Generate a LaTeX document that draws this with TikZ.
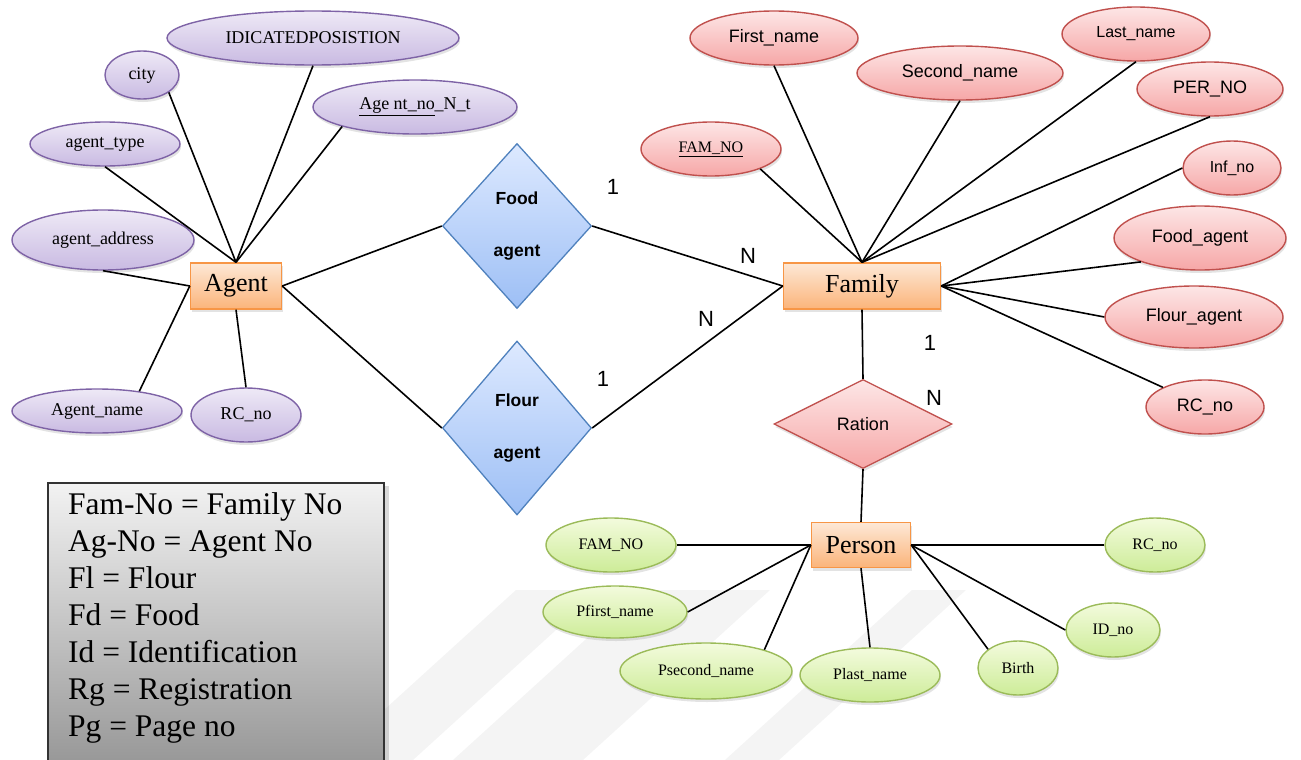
\documentclass[tikz,border=0pt]{standalone}
\usepackage{fontspec}
\setmainfont{Liberation Serif}
\setsansfont{Liberation Sans}
\usetikzlibrary{shapes.geometric,shadows}

\definecolor{purpleline}{HTML}{7E63A6}
\definecolor{purpletop}{HTML}{EEE9F6}
\definecolor{purplebot}{HTML}{C9BAE2}
\definecolor{redline}{HTML}{C0504D}
\definecolor{redtop}{HTML}{FDE6E6}
\definecolor{redbot}{HTML}{F6A7A7}
\definecolor{greenline}{HTML}{9BBB59}
\definecolor{greentop}{HTML}{F3FBDD}
\definecolor{greenbot}{HTML}{CDEC98}
\definecolor{orangeline}{HTML}{F79646}
\definecolor{orangetop}{HTML}{FDE8D6}
\definecolor{orangebot}{HTML}{FBB47A}
\definecolor{blueline}{HTML}{4F81BD}
\definecolor{bluetop}{HTML}{DDE9FF}
\definecolor{bluebot}{HTML}{9DBFF5}
\definecolor{markgray}{HTML}{F4F4F4}

\tikzset{
  sz/.style 2 args={minimum width=#1pt, minimum height=#2pt},
  softshadow/.style={drop shadow={opacity=0.22, shadow xshift=1pt, shadow yshift=-3pt}},
  attr/.style={ellipse, inner sep=0pt, line width=1.4pt, softshadow},
  pattr/.style={attr, draw=purpleline, top color=purpletop, bottom color=purplebot,
    font=\fontsize{18}{20}\selectfont},
  rattr/.style={attr, draw=redline, top color=redtop, bottom color=redbot,
    font=\sffamily\fontsize{18}{20}\selectfont},
  gattr/.style={attr, draw=greenline, top color=greentop, bottom color=greenbot,
    font=\fontsize{16}{18}\selectfont},
  entity/.style={rectangle, inner sep=0pt, line width=1.4pt, draw=orangeline,
    top color=orangetop, bottom color=orangebot, softshadow,
    font=\fontsize{26}{30}\selectfont},
  bluerel/.style={diamond, inner sep=0pt, line width=1.3pt, draw=blueline,
    top color=bluetop, bottom color=bluebot, align=center,
    font=\sffamily\bfseries\fontsize{17.5}{52}\selectfont},
  redrel/.style={diamond, inner sep=0pt, line width=1.3pt, draw=redline,
    top color=redtop, bottom color=redbot, softshadow,
    font=\sffamily\fontsize{18}{20}\selectfont},
  link/.style={line width=1.6pt, black},
  card/.style={inner sep=0pt, font=\sffamily\fontsize{22}{24}\selectfont},
  legendbox/.style={rectangle, anchor=north west, draw=black!80, line width=1.6pt,
    top color=black!5, bottom color=black!42,
    drop shadow={opacity=0.3, shadow xshift=5pt, shadow yshift=-3pt}},
}

\begin{document}
\begin{tikzpicture}[x=1pt, y=-1pt]
\useasboundingbox (0,0) rectangle (1301,760);

% faint background stripes
\fill[markgray] (516,590) -- (600,590) -- (413,760) -- (329,760) -- cycle;
\fill[markgray] (640,590) -- (770,590) -- (583,760) -- (453,760) -- cycle;
\fill[markgray] (912,590) -- (966,590) -- (779,760) -- (725,760) -- cycle;

% ---------- Agent entity and its attributes ----------
\node[entity, sz={91}{46}] (agent) at (236,286) {Agent};
\node[pattr, sz={292}{54}] (idpos) at (313,38) {IDICATEDPOSISTION};
\node[pattr, sz={74}{48}] (city) at (142,75) {city};
\node[pattr, sz={204}{54}] (agno) at (415,107) {\underline{Age nt\_no}\_N\_t};
\node[pattr, sz={150}{44}] (atype) at (105,144) {agent\_type};
\node[pattr, sz={182}{60}] (aaddr) at (103,240) {agent\_address};
\node[pattr, sz={170}{44}] (aname) at (97,411) {Agent\_name};
\node[pattr, sz={110}{54}] (arc) at (246,415) {RC\_no};

% ---------- relationships between Agent and Family ----------
\node[bluerel, sz={149}{165}] (food) at (517,226) {Food\\agent};
\node[bluerel, sz={149}{174}] (flour) at (517,428) {Flour\\agent};

% ---------- Family entity and its attributes ----------
\node[entity, sz={157}{46}] (family) at (862,286) {Family};
\node[rattr, sz={168}{54}] (fname) at (774,38) {First\_name};
\node[rattr, sz={206}{54}] (sname) at (960,73) {Second\_name};
\node[rattr, sz={148}{54}, font=\sffamily\fontsize{16}{18}\selectfont] (lname) at (1136,34) {Last\_name};
\node[rattr, sz={146}{54}] (perno) at (1210,89) {PER\_NO};
\node[rattr, sz={140}{54}, font=\rmfamily\fontsize{16}{18}\selectfont] (famno) at (711,149) {\underline{FAM\_NO}};
\node[rattr, sz={98}{54}, font=\sffamily\fontsize{16}{18}\selectfont] (infno) at (1232,168) {Inf\_no};
\node[rattr, sz={172}{64}] (foodag) at (1200,238) {Food\_agent};
\node[rattr, sz={178}{62}] (flourag) at (1194,317) {Flour\_agent};
\node[rattr, sz={118}{54}] (frc) at (1205,407) {RC\_no};

\node[redrel, sz={178}{89}] (ration) at (863,424) {Ration};

% ---------- Person entity and its attributes ----------
\node[entity, sz={99}{45}] (person) at (861,545) {Person};
\node[gattr, sz={130}{54}] (pfam) at (611,545) {FAM\_NO};
\node[gattr, sz={144}{52}] (pfirst) at (615,612) {Pfirst\_name};
\node[gattr, sz={172}{56}] (psecond) at (706,671) {Psecond\_name};
\node[gattr, sz={140}{54}] (plast) at (870,675) {Plast\_name};
\node[gattr, sz={80}{54}] (birth) at (1018,668) {Birth};
\node[gattr, sz={94}{54}] (idno) at (1113,630) {ID\_no};
\node[gattr, sz={100}{54}] (prc) at (1155,545) {RC\_no};

% ---------- connectors ----------
\draw[link] (atype.south) -- (agent.north);
\draw[link] (city.-33) -- (agent.north);
\draw[link] (idpos.south) -- (agent.north);
\draw[link] (agno.195) -- (agent.north);
\draw[link] (aaddr.south) -- (agent.west);
\draw[link] (aname.25) -- (agent.west);
\draw[link] (arc.north) -- (agent.south);
\draw[link] (agent.east) -- (food.west);
\draw[link] (agent.east) -- (flour.west);

\draw[link] (food.east) -- (family.west);
\draw[link] (flour.east) -- (family.west);

\draw[link] (famno.-22) -- (family.north);
\draw[link] (fname.south) -- (family.north);
\draw[link] (sname.south) -- (family.north);
\draw[link] (lname.south) -- (family.north);
\draw[link] (perno.south) -- (family.north);
\draw[link] (infno.west) -- (family.east);
\draw[link] (foodag.-158) -- (family.east);
\draw[link] (flourag.west) -- (family.east);
\draw[link] (frc.155) -- (family.east);

\draw[link] (family.south) -- (ration.north);
\draw[link] (ration.south) -- (person.north);

\draw[link] (pfam.east) -- (person.west);
\draw[link] (pfirst.east) -- (person.west);
\draw[link] (psecond.20) -- (person.west);
\draw[link] (plast.north) -- (person.south);
\draw[link] (birth.148) -- (person.east);
\draw[link] (idno.west) -- (person.east);
\draw[link] (prc.west) -- (person.east);

% ---------- cardinalities ----------
\node[card] (c1) at (613,187) {1};
\node[card] (c2) at (748,256) {N};
\node[card] (c3) at (706,319) {N};
\node[card] (c4) at (603,379) {1};
\node[card] (c5) at (930,343) {1};
\node[card] (c6) at (934,398) {N};

% ---------- abbreviations ----------
\node[legendbox, minimum width=336pt, minimum height=292pt] (legend) at (47,482) {};
\node[anchor=north west, inner sep=0pt, align=left,
      font=\fontsize{31.5}{37}\selectfont] (legendtext) at (68,492)
  {Fam-No = Family No\\
   Ag-No = Agent No\\
   Fl = Flour\\
   Fd = Food\\
   Id = Identification\\
   Rg = Registration\\
   Pg = Page no};
\end{tikzpicture}
\end{document}
